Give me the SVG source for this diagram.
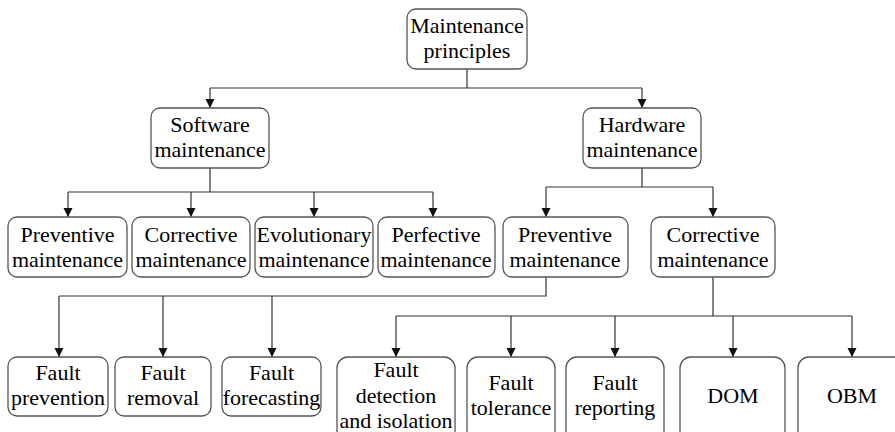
<svg xmlns="http://www.w3.org/2000/svg" width="895" height="432" viewBox="0 0 895 432">
<style>
.box{fill:#fff;stroke:#555;stroke-width:1.3}
.t{font-family:"Liberation Serif","Times New Roman",serif;font-size:22px;fill:#000;text-anchor:middle}
.c{fill:none;stroke:#333;stroke-width:1.2}
</style>
<defs>
<marker id="ah" markerUnits="userSpaceOnUse" markerWidth="10" markerHeight="10" refX="9" refY="4.5" orient="auto">
<path d="M0,0 L9,4.5 L0,9 z" fill="#111"/>
</marker>
</defs>
<rect width="895" height="432" fill="#fff"/>
<g id="connectors">
<path class="c" d="M467,69 V88 M210,88 H642"/>
<path class="c" d="M210,88 V108" marker-end="url(#ah)"/>
<path class="c" d="M642,88 V108" marker-end="url(#ah)"/>
<path class="c" d="M210,168 V192 M68,192 H433"/>
<path class="c" d="M68,192 V217" marker-end="url(#ah)"/>
<path class="c" d="M191,192 V217" marker-end="url(#ah)"/>
<path class="c" d="M314,192 V217" marker-end="url(#ah)"/>
<path class="c" d="M433,192 V217" marker-end="url(#ah)"/>
<path class="c" d="M642,168 V187 M546,187 H713"/>
<path class="c" d="M546,187 V217" marker-end="url(#ah)"/>
<path class="c" d="M713,187 V217" marker-end="url(#ah)"/>
<path class="c" d="M546,277 V296 H59"/>
<path class="c" d="M59,296 V357" marker-end="url(#ah)"/>
<path class="c" d="M163,296 V357" marker-end="url(#ah)"/>
<path class="c" d="M272,296 V357" marker-end="url(#ah)"/>
<path class="c" d="M713,277 V316 M396,316 H852"/>
<path class="c" d="M396,316 V357" marker-end="url(#ah)"/>
<path class="c" d="M511,316 V357" marker-end="url(#ah)"/>
<path class="c" d="M615,316 V357" marker-end="url(#ah)"/>
<path class="c" d="M733,316 V357" marker-end="url(#ah)"/>
<path class="c" d="M852,316 V357" marker-end="url(#ah)"/>
</g>
<g id="n-principles"><rect class="box" x="407" y="9" width="120" height="60" rx="9"/><text class="t" x="467" y="33">Maintenance</text><text class="t" x="467" y="58">principles</text></g>
<g id="n-software"><rect class="box" x="151" y="108" width="118" height="60" rx="9"/><text class="t" x="210" y="132">Software</text><text class="t" x="210" y="157">maintenance</text></g>
<g id="n-hardware"><rect class="box" x="583" y="108" width="118" height="60" rx="9"/><text class="t" x="642" y="132">Hardware</text><text class="t" x="642" y="157">maintenance</text></g>
<g id="n-sw-preventive"><rect class="box" x="8" y="217" width="119" height="60" rx="9"/><text class="t" x="67.5" y="242">Preventive</text><text class="t" x="67.5" y="267">maintenance</text></g>
<g id="n-sw-corrective"><rect class="box" x="132" y="217" width="118" height="60" rx="9"/><text class="t" x="191" y="242">Corrective</text><text class="t" x="191" y="267">maintenance</text></g>
<g id="n-sw-evolutionary"><rect class="box" x="255" y="217" width="118" height="60" rx="9"/><text class="t" x="314" y="242">Evolutionary</text><text class="t" x="314" y="267">maintenance</text></g>
<g id="n-sw-perfective"><rect class="box" x="378" y="217" width="117" height="60" rx="9"/><text class="t" x="436" y="242">Perfective</text><text class="t" x="436" y="267">maintenance</text></g>
<g id="n-hw-preventive"><rect class="box" x="503" y="217" width="125" height="60" rx="9"/><text class="t" x="565" y="242">Preventive</text><text class="t" x="565" y="267">maintenance</text></g>
<g id="n-hw-corrective"><rect class="box" x="651" y="217" width="124" height="60" rx="9"/><text class="t" x="713" y="242">Corrective</text><text class="t" x="713" y="267">maintenance</text></g>
<g id="n-fault-prevention"><rect class="box" x="8" y="357" width="100" height="59" rx="9"/><text class="t" x="58" y="380">Fault</text><text class="t" x="58" y="405">prevention</text></g>
<g id="n-fault-removal"><rect class="box" x="115" y="357" width="96" height="59" rx="9"/><text class="t" x="163" y="380">Fault</text><text class="t" x="163" y="405">removal</text></g>
<g id="n-fault-forecasting"><rect class="box" x="222" y="357" width="99" height="59" rx="9"/><text class="t" x="271.5" y="380">Fault</text><text class="t" x="271.5" y="405">forecasting</text></g>
<g id="n-fault-detection"><rect class="box" x="337" y="357" width="118" height="85" rx="11"/><text class="t" x="396" y="377">Fault</text><text class="t" x="396" y="403">detection</text><text class="t" x="396" y="428">and isolation</text></g>
<g id="n-fault-tolerance"><rect class="box" x="467" y="357" width="88" height="85" rx="11"/><text class="t" x="511" y="390">Fault</text><text class="t" x="511" y="415">tolerance</text></g>
<g id="n-fault-reporting"><rect class="box" x="566" y="357" width="98" height="85" rx="11"/><text class="t" x="615" y="390">Fault</text><text class="t" x="615" y="415">reporting</text></g>
<g id="n-dom"><rect class="box" x="680" y="357" width="105" height="85" rx="11"/><text class="t" x="733" y="403">DOM</text></g>
<g id="n-obm"><rect class="box" x="798" y="357" width="108" height="85" rx="11"/><text class="t" x="852" y="403">OBM</text></g>
</svg>
